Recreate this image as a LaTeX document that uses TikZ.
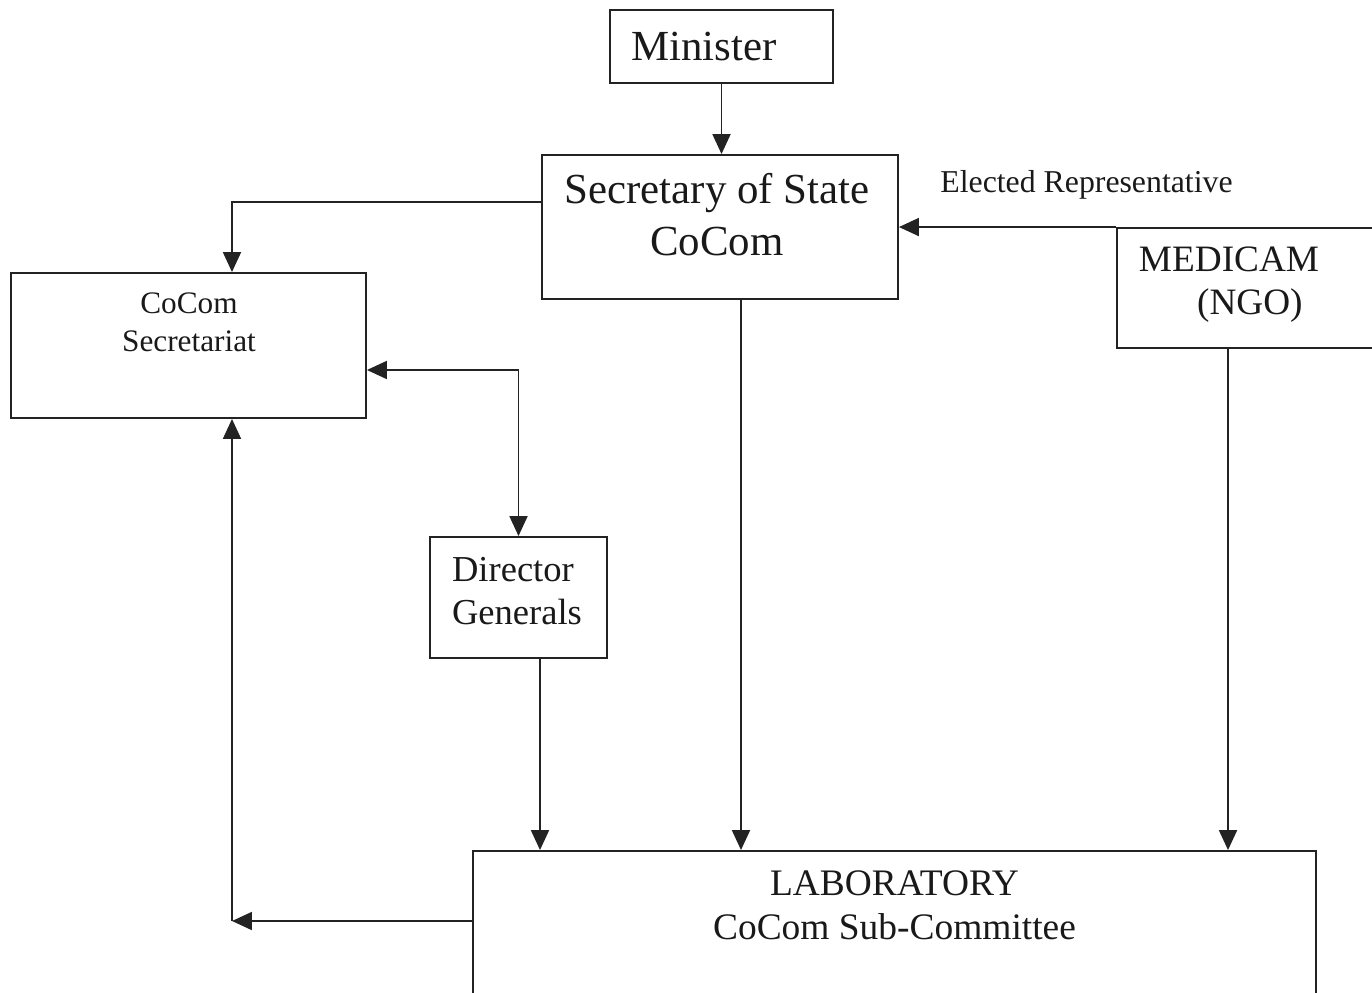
\documentclass[tikz,border=0pt]{standalone}
\usepackage{fontspec}
\setmainfont{Liberation Serif}
\usepackage{tikz}
\usetikzlibrary{
  positioning,
  arrows.meta
}
\definecolor{boxborder}{RGB}{35,35,35}
\definecolor{arrowcolor}{RGB}{35,35,35}
\tikzset{
  orgbox/.style={
    draw=boxborder, line width=1.1pt, inner sep=0pt
  },
  boxtext/.style={
    inner sep=0pt, align=center, text=black!90
  },
  bigarrow/.style={
    -{Triangle[length=0.4cm,width=0.36cm]}, line width=1.1pt, draw=arrowcolor
  },
  twoarrow/.style={
    {Triangle[length=0.4cm,width=0.36cm]}-{Triangle[length=0.4cm,width=0.36cm]},
    line width=1.1pt, draw=arrowcolor
  }
}

\begin{document}
\begin{tikzpicture}[x=0.02cm, y=-0.02cm]
    \useasboundingbox (0,0) rectangle (1372,993);
    \clip (0,0) rectangle (1372,993);

    % Boxes
    \node[orgbox, minimum width=4.46cm, minimum height=1.46cm] (minister) at (721.5,46.5) {};
    \node[orgbox, minimum width=7.12cm, minimum height=2.88cm] (secstate) at (720,227) {};
    \node[orgbox, minimum width=7.1cm, minimum height=2.9cm] (secr) at (188.5,345.5) {};
    \node[orgbox, minimum width=3.54cm, minimum height=2.42cm] (dirgen) at (518.5,597.5) {};
    \node[orgbox, minimum width=6.06cm, minimum height=2.4cm] (medicam) at (1268.5,288) {};
    \node[orgbox, minimum width=16.86cm, minimum height=4cm] (lab) at (894.5,951) {};

    % Texts
    \node[boxtext, font=\fontsize{24.4}{28.5}\selectfont] (ministertxt) at (704,47) {Minister};
    \node[boxtext, font=\fontsize{24.4}{29.5}\selectfont] (secstatetxt) at (717,214.5) {Secretary of State\\CoCom};
    \node[boxtext, font=\fontsize{17.8}{21.4}\selectfont] (secrtxt) at (189,322) {CoCom\\Secretariat};
    \node[boxtext, align=left, font=\fontsize{20.8}{24.5}\selectfont] (dirgentxt) at (517,591) {Director\\Generals};
    \node[boxtext, align=left, font=\fontsize{21.2}{24.5}\selectfont] (medicamtxt) at (1229,284.5) {MEDICAM\\\hspace*{1.56em}(NGO)};
    \node[boxtext, font=\fontsize{21.3}{25}\selectfont] (labtxt) at (894.5,905) {LABORATORY\\CoCom Sub-Committee};
    \node[boxtext, anchor=base west, font=\fontsize{18.1}{21}\selectfont] (elected) at (940,193) {Elected Representative};

    % Connector points
    \coordinate (ssleft) at ([yshift=0.5cm]secstate.west);
    \coordinate (secrtop) at ([xshift=0.87cm]secr.north);
    \coordinate (secrbot) at ([xshift=0.87cm]secr.south);
    \coordinate (secrright) at ([yshift=-0.49cm]secr.east);
    \coordinate (ssout) at ([xshift=0.42cm]secstate.south);
    \coordinate (dgout) at ([xshift=0.43cm]dirgen.south);
    \coordinate (medout) at ([xshift=-0.81cm]medicam.south);
    \coordinate (labout) at ([yshift=0.6cm]lab.west);

    % Arrows
    \draw[bigarrow] (minister.south) -- (minister.south |- secstate.north);
    \draw[bigarrow] (ssleft) -| (secrtop);
    \draw[bigarrow] (medicam.north west) -- (medicam.north west -| secstate.east);
    \draw[bigarrow] (ssout) -- (ssout |- lab.north);
    \draw[bigarrow] (medout) -- (medout |- lab.north);
    \draw[bigarrow] (dgout) -- (dgout |- lab.north);
    \draw[twoarrow] (secrright) -| (dirgen.north);
    \draw[bigarrow] (labout) -- (labout -| secrbot);
    \draw[bigarrow] (labout -| secrbot) -- (secrbot);

  \end{tikzpicture}
\end{document}
